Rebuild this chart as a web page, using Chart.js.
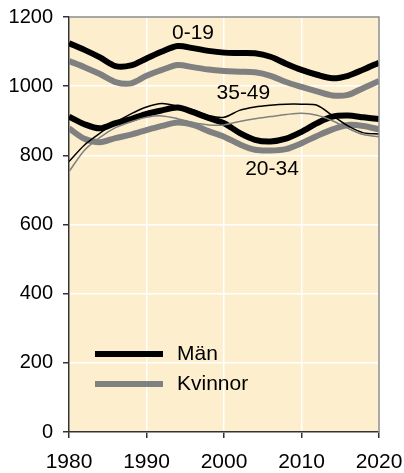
<!DOCTYPE html>
<html lang="sv">
<head>
<meta charset="UTF-8">
<title>Män och kvinnor per åldersgrupp</title>
<script src="https://cdn.jsdelivr.net/npm/chart.js@4.4.0/dist/chart.umd.min.js"></script>
<style>
    html, body { margin: 0; padding: 0; background: #fff; }
    #wrap { width: 404px; height: 473px; }
</style>
</head>
<body>
<div id="wrap"><canvas id="chart"></canvas></div>
<script>
// years, every second year
const years = [1980,1982,1984,1986,1988,1990,1992,1994,1996,1998,2000,2002,2004,2006,2008,2010,2012,2014,2016,2018,2020];

// 0-19
const man0to19 = [1124,1105,1083,1058,1060,1080,1100,1116,1110,1102,1097,1096,1095,1085,1065,1047,1033,1023,1030,1048,1068];
const kvinnor0to19 = [1073,1055,1035,1012,1008,1030,1047,1061,1055,1048,1044,1042,1040,1030,1012,998,985,973,975,995,1015];
// 20-34
const man20to34 = [912,890,878,893,905,920,930,938,925,908,893,865,845,840,848,868,893,912,915,910,905];
const kvinnor20to34 = [878,848,838,850,860,873,885,895,888,870,854,832,816,814,818,835,856,875,888,885,875];
// 35-49
const man35to49 = [782,830,864,895,920,940,950,942,932,915,910,930,940,945,948,948,945,915,885,865,862];
const kvinnor35to49 = [753,815,852,880,897,910,914,906,895,888,888,898,906,912,918,922,916,900,878,860,854];

// group labels: [text, year, value]
const groupLabels = [["0-19", 1996, 1154], ["35-49", 2002.5, 981], ["20-34", 2006.2, 760]];
const legendItems = [["Män", "#000000"], ["Kvinnor", "#808080"]];

const FONT = "'Liberation Sans', Arial, sans-serif";

function pts(vals) {
    return vals.map((v, i) => ({ x: years[i], y: v }));
}
function line(label, vals, color, width) {
    return { label: label, data: pts(vals), borderColor: color, borderWidth: width,
             pointRadius: 0, tension: 0.3, fill: false };
}

const decor = {
    id: 'decor',
    beforeDraw(chart) {
        const a = chart.chartArea, ctx = chart.ctx;
        ctx.save();
        ctx.fillStyle = '#FDEECD';
        ctx.fillRect(a.left, a.top, a.right - a.left, a.bottom - a.top);
        ctx.restore();
    },
    afterDraw(chart) {
        const a = chart.chartArea, ctx = chart.ctx;
        const xs = chart.scales.x, ys = chart.scales.y;
        ctx.save();
        // frame top and right
        ctx.strokeStyle = '#8c8c8c';
        ctx.lineWidth = 1.5;
        ctx.beginPath();
        ctx.moveTo(a.left, a.top);
        ctx.lineTo(a.right, a.top);
        ctx.lineTo(a.right, a.bottom);
        ctx.stroke();

        ctx.font = '21px ' + FONT;
        ctx.fillStyle = '#000';
        ctx.textAlign = 'center';
        ctx.textBaseline = 'middle';
        groupLabels.forEach(g => {
            ctx.fillText(g[0], xs.getPixelForValue(g[1]), ys.getPixelForValue(g[2]));
        });

        // legend
        ctx.textAlign = 'left';
        ctx.lineWidth = 6;
        legendItems.forEach((it, i) => {
            const y = a.top + 337 + i * 30;
            ctx.strokeStyle = it[1];
            ctx.beginPath();
            ctx.moveTo(a.left + 26, y);
            ctx.lineTo(a.left + 94, y);
            ctx.stroke();
            ctx.fillText(it[0], a.left + 108, y);
        });
        ctx.restore();
    }
};

new Chart(document.getElementById('chart'), {
    type: 'line',
    data: {
        datasets: [
            line('Kvinnor 35-49', kvinnor35to49, '#808080', 1.5),
            line('Män 35-49', man35to49, '#000000', 1.5),
            line('Kvinnor 20-34', kvinnor20to34, '#808080', 6),
            line('Män 20-34', man20to34, '#000000', 6),
            line('Kvinnor 0-19', kvinnor0to19, '#808080', 6),
            line('Män 0-19', man0to19, '#000000', 6)
        ]
    },
    options: {
        responsive: true,
        maintainAspectRatio: false,
        animation: false,
        layout: { padding: { top: 17, right: 25, left: 0, bottom: 0 } },
        plugins: { legend: { display: false }, tooltip: { enabled: false } },
        scales: {
            x: {
                type: 'linear', min: 1980, max: 2020,
                afterFit(s) { s.height = 41; s.paddingLeft = 0; s.paddingRight = 0; },
                grid: { color: '#ffffff', lineWidth: 1.5, tickColor: '#333', tickLength: 6 },
                border: { color: '#333', width: 1.5 },
                ticks: { stepSize: 10, color: '#000', padding: 12, maxRotation: 0,
                         font: { family: FONT, size: 21 }, callback: v => String(v) }
            },
            y: {
                min: 0, max: 1200,
                afterFit(s) { s.width = 69; s.paddingTop = 0; s.paddingBottom = 0; },
                grid: { color: '#ffffff', lineWidth: 1.5, tickColor: '#333', tickLength: 6 },
                border: { color: '#333', width: 1.5 },
                ticks: { stepSize: 200, color: '#000', padding: 10,
                         font: { family: FONT, size: 20 }, callback: v => String(v) }
            }
        }
    },
    plugins: [decor]
});
</script>
</body>
</html>
